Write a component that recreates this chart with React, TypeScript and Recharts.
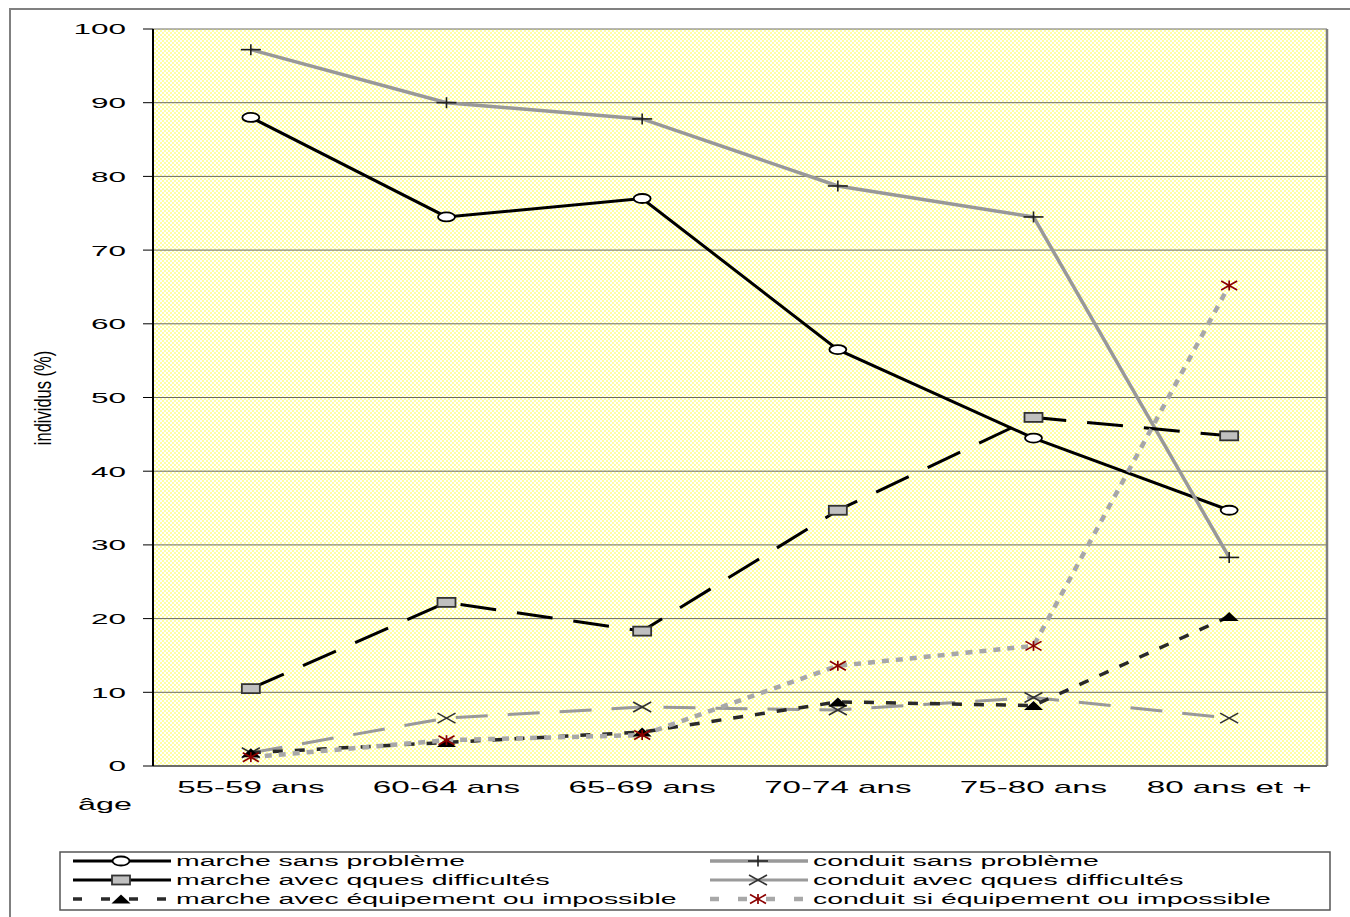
import React from 'react'
import { LineChart, Line, XAxis, YAxis, CartesianGrid, ReferenceLine } from 'recharts'

const ages = ['55-59 ans', '60-64 ans', '65-69 ans', '70-74 ans', '75-80 ans', '80 ans et +']
const marcheSansProbleme = [88, 74.5, 77, 56.5, 44.5, 34.7]
const conduitSansProbleme = [97.2, 90, 87.8, 78.7, 74.5, 28.3]
const marcheDifficultes = [10.5, 22.2, 18.3, 34.7, 47.3, 44.8]
const conduitDifficultes = [1.8, 6.5, 8, 7.6, 9.3, 6.5]
const marcheEquipement = [1.8, 3.2, 4.6, 8.7, 8.2, 20.3]
const conduitEquipement = [1.2, 3.5, 4.2, 13.6, 16.3, 65.2]
const yTicks = [0, 10, 20, 30, 40, 50, 60, 70, 80, 90, 100]
const yMinorTicks = [5, 15, 25, 35, 45, 55, 65, 75, 85, 95]
const edgeTicks = [0, 1, 2, 3, 4, 5, 6]

const data = ages.map((age, i) => ({
  age,
  pos: i + 0.5,
  msp: marcheSansProbleme[i],
  csp: conduitSansProbleme[i],
  mqd: marcheDifficultes[i],
  cqd: conduitDifficultes[i],
  meq: marcheEquipement[i],
  ceq: conduitEquipement[i],
}))

const FONT = '"Liberation Sans", Arial, sans-serif'

// marker shapes (the original picture is stretched sideways, so are the markers)
const circleMark = (cx: number, cy: number) => (
  <ellipse cx={cx} cy={cy} rx={8.5} ry={4.5} fill="#fff" stroke="#000" strokeWidth={1.8} />
)
const plusMark = (cx: number, cy: number) => (
  <g stroke="#222" strokeWidth={1.6}>
    <line x1={cx - 10} y1={cy} x2={cx + 10} y2={cy} />
    <line x1={cx} y1={cy - 5.5} x2={cx} y2={cy + 5.5} />
  </g>
)
const squareMark = (cx: number, cy: number) => (
  <rect x={cx - 9} y={cy - 4.5} width={18} height={9} fill="#c0c0c0" stroke="#333" strokeWidth={1.8} />
)
const crossMark = (cx: number, cy: number) => (
  <g stroke="#333" strokeWidth={1.6}>
    <line x1={cx - 9} y1={cy - 5} x2={cx + 9} y2={cy + 5} />
    <line x1={cx - 9} y1={cy + 5} x2={cx + 9} y2={cy - 5} />
  </g>
)
const triangleMark = (cx: number, cy: number) => (
  <path d={`M${cx - 9.5},${cy + 4.5} L${cx + 9.5},${cy + 4.5} L${cx},${cy - 4.5} Z`} fill="#000" />
)
const starMark = (cx: number, cy: number) => (
  <g stroke="#8b0000" strokeWidth={1.7}>
    <line x1={cx - 8} y1={cy - 4.5} x2={cx + 8} y2={cy + 4.5} />
    <line x1={cx - 8} y1={cy + 4.5} x2={cx + 8} y2={cy - 4.5} />
    <line x1={cx} y1={cy - 5} x2={cx} y2={cy + 5} />
  </g>
)

const makeDot = (mark: (cx: number, cy: number) => React.ReactElement) => (props: any) => (
  <g key={`dot-${props.index}`}>{mark(props.cx, props.cy)}</g>
)

const series = [
  { key: 'msp', name: 'marche sans problème', stroke: '#000', width: 3, dash: undefined, legendDash: undefined, mark: circleMark },
  { key: 'csp', name: 'conduit sans problème', stroke: '#999', width: 3.5, dash: undefined, legendDash: undefined, mark: plusMark },
  { key: 'mqd', name: 'marche avec qques difficultés', stroke: '#000', width: 3, dash: '36 21', legendDash: undefined, mark: squareMark },
  { key: 'cqd', name: 'conduit avec qques difficultés', stroke: '#9a9a9a', width: 3, dash: '32 20', legendDash: undefined, mark: crossMark },
  { key: 'meq', name: 'marche avec équipement ou impossible', stroke: '#2a2a2a', width: 3.5, dash: '10 12', legendDash: '9 19', mark: triangleMark },
  { key: 'ceq', name: 'conduit si équipement ou impossible', stroke: '#a8a8a8', width: 4.5, dash: '7 7', legendDash: '9 19', mark: starMark },
]

const YTick = ({ x, y, payload }: any) => (
  <text transform={`translate(${x - 15},${y}) scale(2.1,1)`} textAnchor="end" dy="0.36em" fontSize={15} fontFamily={FONT} fill="#000">
    {payload.value}
  </text>
)

const XTick = ({ x, y, payload }: any) => (
  <text transform={`translate(${x},${y + 19}) scale(1.95,1)`} textAnchor="middle" fontSize={17} fontFamily={FONT} fill="#000">
    {payload.value}
  </text>
)

function LegendBox() {
  const cols = [73, 710]
  const rows = [861, 880, 899]
  return (
    <svg width={1350} height={917} style={{ position: 'absolute', left: 0, top: 0, pointerEvents: 'none' }}>
      <rect x={60} y={852} width={1270} height={58} fill="#fff" stroke="#555" strokeWidth={1.5} />
      {series.map((s, i) => {
        const x0 = cols[i % 2]
        const y = rows[Math.floor(i / 2)]
        const cx = x0 + 48
        return (
          <g key={s.key}>
            <line x1={x0} y1={y} x2={x0 + 98} y2={y} stroke={s.stroke} strokeWidth={s.width} strokeDasharray={s.legendDash} />
            {s.mark(cx, y)}
            <text transform={`translate(${x0 + 103},${y}) scale(2.03,1)`} dy="0.36em" fontSize={14} fontFamily={FONT} fill="#000">
              {s.name}
            </text>
          </g>
        )
      })}
    </svg>
  )
}

export default function App() {
  return (
    <div style={{ position: 'absolute', left: 0, top: 0, width: 1350, height: 917, overflow: 'hidden', background: '#fff' }}>
      <div style={{ position: 'absolute', left: 9, top: 8, width: 1400, height: 1000, borderLeft: '2px solid #808080', borderTop: '2px solid #808080' }} />
      <div style={{ position: 'absolute', left: 0, top: 0 }}>
        <LineChart width={1350} height={830} data={data} margin={{ top: 29, right: 23, left: 0, bottom: 0 }}>
          <defs>
            <pattern id="dots" width={4} height={4} patternUnits="userSpaceOnUse">
              <rect width={4} height={4} fill="#ffffa4" />
              <rect x={0} y={0} width={2} height={2} fill="#ffffff" />
              <rect x={2} y={2} width={2} height={2} fill="#ffffff" />
            </pattern>
          </defs>
          <CartesianGrid vertical={false} stroke="#6e6e64" fill="url(#dots)" fillOpacity={1} />
          <XAxis
            xAxisId="edges"
            type="number"
            dataKey="pos"
            domain={[0, 6]}
            ticks={edgeTicks}
            tick={false}
            axisLine={false}
            tickSize={7}
            tickLine={{ stroke: '#333' }}
            height={0}
          />
          <XAxis dataKey="age" scale="band" tickLine={false} axisLine={{ stroke: '#555', strokeWidth: 1.5 }} tick={<XTick />} height={64} interval={0} />
          <YAxis
            yAxisId="minor"
            mirror
            type="number"
            domain={[0, 100]}
            ticks={yMinorTicks}
            tick={false}
            axisLine={false}
            tickSize={9}
            tickLine={{ stroke: '#000' }}
            width={0}
          />
          <YAxis
            type="number"
            domain={[0, 100]}
            ticks={yTicks}
            tick={<YTick />}
            tickSize={10}
            tickLine={{ stroke: '#000' }}
            axisLine={{ stroke: '#000', strokeWidth: 2 }}
            width={153}
          />
          <ReferenceLine xAxisId="edges" x={6} stroke="#808080" strokeWidth={2.5} />
          {series.map((s) => (
            <Line
              key={s.key}
              dataKey={s.key}
              name={s.name}
              stroke={s.stroke}
              strokeWidth={s.width}
              strokeDasharray={s.dash}
              dot={makeDot(s.mark)}
              activeDot={false}
              isAnimationActive={false}
            />
          ))}
        </LineChart>
      </div>
      <svg width={1350} height={917} style={{ position: 'absolute', left: 0, top: 0, pointerEvents: 'none' }}>
        <text transform="translate(42,398) scale(1.5,1) rotate(-90)" textAnchor="middle" dy="0.36em" fontSize={16.5} fontFamily={FONT} fill="#000">
          individus (%)
        </text>
        <text transform="translate(105,810) scale(1.9,1)" textAnchor="middle" fontSize={17} fontFamily={FONT} fill="#000">
          âge
        </text>
      </svg>
      <LegendBox />
    </div>
  )
}
